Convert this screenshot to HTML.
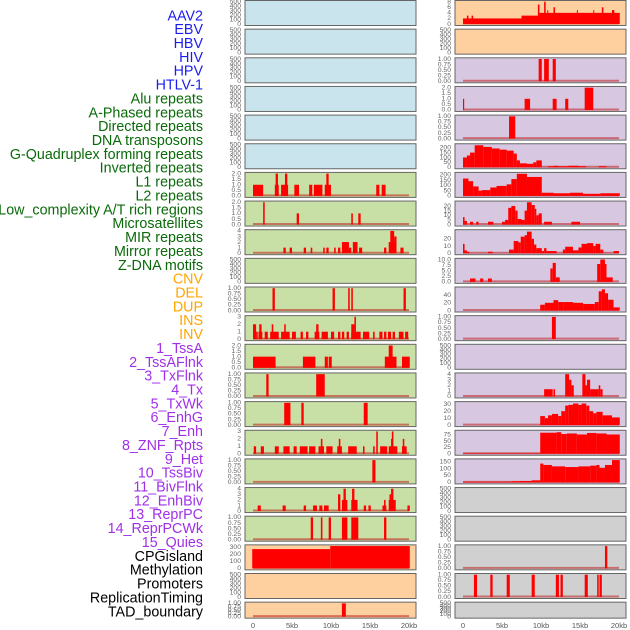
<!DOCTYPE html>
<html><head><meta charset="utf-8"><style>
html,body{margin:0;padding:0;background:#fff;width:630px;height:630px;overflow:hidden}
svg{display:block}
text{font-family:"Liberation Sans",sans-serif}
</style></head><body>
<svg id="chart" width="630" height="630" viewBox="0 0 630 630" xmlns="http://www.w3.org/2000/svg"></svg>
<script>
const trackLabels = ["AAV2","EBV","HBV","HIV","HPV","HTLV-1","Alu repeats","A-Phased repeats","Directed repeats","DNA transposons","G-Quadruplex forming repeats","Inverted repeats","L1 repeats","L2 repeats","Low_complexity A/T rich regions","Microsatellites","MIR repeats","Mirror repeats","Z-DNA motifs","CNV","DEL","DUP","INS","INV","1_TssA","2_TssAFlnk","3_TxFlnk","4_Tx","5_TxWk","6_EnhG","7_Enh","8_ZNF_Rpts","9_Het","10_TssBiv","11_BivFlnk","12_EnhBiv","13_ReprPC","14_ReprPCWk","15_Quies","CPGisland","Methylation","Promoters","ReplicationTiming","TAD_boundary"];
const labelGroups = ["virus","virus","virus","virus","virus","virus","repeat","repeat","repeat","repeat","repeat","repeat","repeat","repeat","repeat","repeat","repeat","repeat","repeat","sv","sv","sv","sv","sv","state","state","state","state","state","state","state","state","state","state","state","state","state","state","state","other","other","other","other","other"];
const xTickKb = [0,5,10,15,20];
const xTickLabels = ["0","5kb","10kb","15kb","20kb"];
const T500=[0,100,200,300,400,500], T1=[0,0.25,0.5,0.75,1], T2=[0,0.5,1,1.5,2], T3=[0,1,2,3], T4=[0,1,2,3,4];
const panelTicks = [T500,T500,T500,T500,T500,T500,T2,T2,T4,T500,T1,T3,T2,T1,T1,T3,T1,T4,T1,[0,100,200,300],T500,T1,
 [0,2,4,6,8],T500,T1,T2,T1,[0,50,100,150,200],[0,50,100,150,200],[0,5,10,15,20],[0,10,20],[0,2.5,5,7.5,10],[0,20,40],T1,T500,T4,[0,10,20,30],[0,25,50,75],[0,50,100,150],T500,T500,T1,T1,T500];
const panelYmax = [500,500,500,500,500,500,2,2,4,500,1,3,2,1,1,3,1,4,1,313,500,1,
 8,500,1,2,1,228,212,24,31,10,58,1,500,4,32,88,160,500,500,1,1,500];
const tickDecimals = [0,0,0,0,0,0,1,1,0,0,2,0,1,2,2,0,2,0,2,0,0,2, 0,0,2,1,2,0,0,0,0,1,0,2,0,0,0,0,0,0,0,2,2,0];
const segL6=[[0,1.3,1],[2.8,3.3,1],[2.9,3.2,2],[3.6,4.5,1],[4.1,4.4,2],[5.3,5.9,1],[7.2,7.6,1],[7.8,8.9,1],[9.2,10.0,1],[9.4,9.7,2],[15.8,16.2,1],[16.5,17.0,1]];
const segL7=[[1.3,1.5,2],[5.6,5.9,1],[12.6,12.8,1],[13.5,13.8,1]];
const segL8=[[3.9,4.2,1],[4.7,5.0,1],[6.5,6.8,1],[7.4,7.6,1],[9.0,9.2,1],[9.4,9.7,1],[10.4,10.6,1],[10.9,11.2,1],[11.4,12.3,2],[12.3,12.6,1],[12.8,13.4,2],[13.6,14.0,1],[16.8,17.1,1],[17.4,18.2,2],[17.6,18.1,4],[18.1,18.4,3],[18.9,19.3,1]];
const segL10=[[2.5,2.8,1],[10.2,10.5,1],[12.2,12.4,1],[12.6,12.8,1],[19.3,19.6,1]];
const segL11=[[0,0.4,2],[0.4,0.6,1],[0.7,1.2,1],[0.8,1.1,2],[1.5,1.9,1],[2.2,3.3,1],[2.4,2.6,2],[3.6,4.7,1],[4.0,4.2,2],[5.0,5.5,1],[6.1,6.4,1],[6.8,7.1,1],[7.9,8.5,1],[8.1,8.4,2],[8.8,9.6,1],[10.0,10.4,1],[10.9,11.2,1],[11.4,11.7,1],[12.0,12.3,1],[12.6,13.8,1],[12.6,13.0,2],[13.0,13.2,3],[14.1,14.9,1],[15.4,15.6,1],[16.2,16.6,1],[16.8,17.1,1],[17.3,17.7,1],[17.9,18.2,1],[18.7,19.3,1],[19.5,19.9,1]];
const segL12=[[0,2.9,1],[6.4,8.0,1],[9.2,9.6,1],[9.7,10.1,1],[16.9,18.4,1],[17.4,17.9,2],[19.1,20.1,1]];
const segL13=[[1.7,2.0,1],[8.1,9.2,1]];
const segL14=[[4.0,4.8,1],[6.2,6.5,1],[14.2,14.7,1]];
const segL15=[[0.1,0.4,1],[1.0,1.4,1],[2.8,3.3,1],[3.9,4.7,1],[5.2,5.6,1],[6.0,7.0,1],[7.2,8.0,1],[8.4,8.6,1],[8.6,9.1,1],[8.7,8.9,2],[9.4,10.2,1],[10.8,11.4,1],[11.0,11.2,2],[12.2,13.3,1],[14.1,14.3,1],[15.4,15.6,1],[15.8,16.0,3],[16.3,17.2,1],[17.4,18.5,1],[17.7,17.9,2],[17.8,18.0,3],[19.1,19.7,1],[19.2,19.4,2]];
const segL16=[[15.3,15.7,1]];
const segL17=[[0.6,1.0,1],[3.8,4.2,1],[6.5,6.8,1],[7.7,8.2,1],[8.5,8.9,1],[9.1,9.7,1],[10.9,11.2,3],[11.4,12.1,2],[11.6,11.9,4],[12.6,13.4,2],[12.7,13.0,4],[14.2,14.5,1],[14.8,15.1,1],[16.6,17.1,1],[16.8,17.0,2],[17.4,18.3,2],[17.5,17.7,3],[17.7,18.0,4],[19.8,20.1,1]];
const segL18=[[7.4,7.7,1],[8.7,8.9,1],[9.7,10.0,1],[11.4,12.1,1],[12.6,13.5,1],[16.8,17.1,1]];
const segL19=[[-0.1,9.9,270],[9.9,20.1,313]];
const segL21=[[11.4,11.9,1]];
const segR0=[[0,7.5,2],[0.5,0.7,3],[1.1,1.3,3],[7.5,9.8,3],[9.6,9.8,7],[9.8,20.1,4],[10.4,10.6,8],[10.8,10.9,5],[11.6,11.8,6],[14.6,14.7,5],[16.7,16.8,5],[17.8,18.0,6],[19.1,19.4,5]];
const segR2=[[9.7,10.1,1],[10.4,11.0,1],[11.5,11.9,1]];
const segR3=[[0,0.15,1],[7.9,8.6,1],[11.5,12.0,1],[13.1,13.5,1],[15.6,16.7,2]];
const segR4=[[5.9,6.7,1]];
const segR5=[[0,0.5,100],[0.5,0.9,120],[0.9,1.5,150],[1.5,2.6,225],[2.6,3.7,208],[3.7,4.7,192],[4.7,5.6,180],[5.6,6.5,170],[6.5,6.9,140],[6.9,7.3,70],[7.3,8.2,40],[8.2,9.0,35],[9.0,9.4,50],[9.4,10.1,70],[10.9,11.6,10],[11.6,12.2,15],[12.2,13.5,10],[13.5,14.8,15],[14.8,15.8,10],[17.4,18.4,10]];
const segR6=[[0,0.7,165],[0.7,1.3,140],[1.3,2.0,90],[2.0,2.4,50],[2.4,3.5,55],[3.5,4.3,80],[4.3,5.6,95],[5.6,6.2,110],[6.2,6.9,160],[6.9,8.2,210],[8.2,10.1,180],[10.1,11.6,30],[11.6,13.7,25],[13.7,15.4,30],[15.4,17.6,20],[17.6,20.1,25]];
const segR7=[[0,0.2,8],[0.2,0.5,4],[0.9,1.3,3],[1.7,2.0,3],[3.2,3.9,3],[5.0,5.4,3],[5.4,5.8,5],[5.8,6.2,18],[6.2,6.7,20],[6.7,7.0,15],[7.0,7.5,6],[7.5,7.9,5],[7.9,8.2,15],[8.2,8.8,24],[8.8,9.2,21],[9.2,9.4,17],[9.4,9.7,10],[9.7,10.1,12],[10.4,11.4,3],[13.9,15.0,3]];
const segR8=[[0,0.2,13],[0.2,0.5,4],[0.5,0.8,2],[3.2,3.8,2],[5.9,6.5,5],[6.5,7.1,17],[7.1,7.4,15],[7.4,7.9,23],[7.9,8.2,25],[8.2,8.8,30],[8.8,9.1,20],[9.1,9.4,12],[9.4,10.1,7],[10.1,10.4,3],[10.4,10.7,7],[10.7,12.0,3],[12.8,13.1,5],[13.1,14.1,9],[14.1,14.8,4],[14.8,15.2,8],[15.2,15.9,13],[15.9,16.7,14],[16.7,17.0,10],[17.0,17.6,13],[17.6,18.0,5],[19.3,20.0,3]];
const segR9=[[0.9,1.6,1.5],[2.2,2.6,1.5],[3.2,3.7,1.5],[11.2,11.5,6],[11.5,11.9,8.5],[11.9,12.4,2],[17.2,17.6,8],[17.6,18.2,10],[18.2,18.4,8],[18.4,19.2,2]];
const segR10=[[9.9,10.5,15],[10.5,11.6,20],[11.6,12.2,27],[12.2,12.9,22],[12.9,14.1,22],[14.1,15.4,20],[15.4,16.9,17],[16.9,17.4,22],[17.4,17.8,50],[17.8,18.2,55],[18.2,18.6,45],[18.6,19.3,28],[19.3,20.1,8]];
const segR11=[[11.4,11.9,1]];
const segR13=[[10.4,11.5,1.3],[11.6,11.8,1.3],[13.1,13.6,4],[13.6,13.9,3],[13.9,14.2,2],[15.3,15.7,4],[15.7,15.9,2],[15.9,16.3,3],[16.3,17.4,1.3],[17.4,17.6,2],[17.6,17.9,1.3]];
const segR14=[[9.9,10.5,13],[10.5,10.9,10],[10.9,11.4,14],[11.4,12.2,16],[12.2,12.6,13],[12.6,13.1,20],[13.1,13.5,28],[13.5,14.1,29],[14.1,14.8,31],[14.8,15.2,29],[15.2,15.8,31],[15.8,16.2,28],[16.2,16.7,20],[16.7,17.1,17],[17.1,17.9,19],[17.9,19.1,14],[19.1,20.1,11]];
const segR15=[[0,9.9,2],[9.9,12.0,83],[12.0,12.6,85],[12.6,13.3,78],[13.3,14.6,80],[14.6,15.9,76],[15.9,17.1,82],[17.1,18.4,80],[18.4,20.1,76]];
const segR16=[[0,6.2,5],[6.2,7.3,8],[7.3,8.8,10],[8.8,9.9,15],[9.9,10.3,135],[10.3,11.4,125],[11.4,13.1,115],[13.1,14.8,110],[14.8,16.3,115],[16.3,17.1,120],[17.1,17.5,125],[17.5,18.2,105],[18.2,19.1,125],[19.1,20.1,160]];
const segR19=[[18.2,18.5,1]];
const segR20=[[1.4,1.8,1],[3.5,3.8,1],[5.6,6.0,1],[8.8,9.2,1],[11.9,12.3,1],[12.5,12.8,1],[15.6,16.0,1],[17.2,17.4,1],[17.5,17.8,1]];
const panelSegs = [null,null,null,null,null,null,segL6,segL7,segL8,null,segL10,segL11,segL12,segL13,segL14,segL15,segL16,segL17,segL18,segL19,null,segL21,
 segR0,null,segR2,segR3,segR4,segR5,segR6,segR7,segR8,segR9,segR10,segR11,null,segR13,segR14,segR15,segR16,null,null,segR19,segR20,null];

const NS="http://www.w3.org/2000/svg";
const svg=document.getElementById('chart');
function mk(tag,attrs,parent){const e=document.createElementNS(NS,tag);for(const k in attrs)e.setAttribute(k,attrs[k]);(parent||svg).appendChild(e);return e;}
const groupColor={virus:"#1c1cf0",repeat:"#0a6a0a",sv:"#ffa500",state:"#a030e8",other:"#000"};
function bgFor(i){if(i<6)return"#c9e4ec";if(i<19)return"#c8e0a6";if(i<24)return"#fed09f";if(i<39)return"#d7c7e1";return"#d0d0d0";}

trackLabels.forEach((t,i)=>{
  const e=mk('text',{x:203,y:16.5+i*13.86,'text-anchor':'end','dominant-baseline':'middle','font-size':'14.3',fill:groupColor[labelGroups[i]]});
  e.textContent=t;
  
  
});

for(let p=0;p<44;p++){
  const col=p<22?0:1, row=p%22;
  const px=col?455:245, pw=171;
  const top=row*28.65+0.5, h=row===21?16:25;
  const x0=col?463:253, x1=col?619:409;
  const xs=kb=>x0+(x1-x0)*kb/20;
  const yb=top+h-1.5, yt=top+1.2;
  const ymax=panelYmax[p];
  const ys=v=>yb-(yb-yt)*v/ymax;
  const g=mk('g',{});
  
  
  const bg=mk('rect',{x:px,y:top,width:pw,height:h,fill:bgFor(p),stroke:'#666','stroke-width':1},g);
  
  
  const segs=panelSegs[p];
  if(segs){
    const bl=mk('line',{x1:xs(0),x2:xs(20),y1:yb-0.5,y2:yb-0.5,stroke:'rgba(190,30,30,0.55)','stroke-width':2},g);
    
    
    segs.forEach(s=>{
      const xa=xs(Math.max(s[0],-0.1)), xb=xs(s[1]);
      const r=mk('rect',{x:xa,y:ys(s[2]),width:Math.max(1,xb-xa),height:yb-ys(s[2]),fill:'#ff0000'},g);
      
      
    });
  }
  panelTicks[p].forEach(tv=>{
    const tx=mk('text',{x:px-4,y:ys(tv),'text-anchor':'end','dominant-baseline':'middle','font-size':'6.8',fill:'#666'},g);
    tx.textContent=tv.toFixed(tickDecimals[p]);
    
    
  });
}
[0,1].forEach(col=>{
  const x0=col?463:253, x1=col?619:409;
  xTickKb.forEach((kb,i)=>{
    const t=mk('text',{x:x0+(x1-x0)*kb/20,y:628,'text-anchor':'middle','font-size':'7.5',fill:'#555'});
    t.textContent=xTickLabels[i];
    
    
  });
});
</script>
</body></html>
